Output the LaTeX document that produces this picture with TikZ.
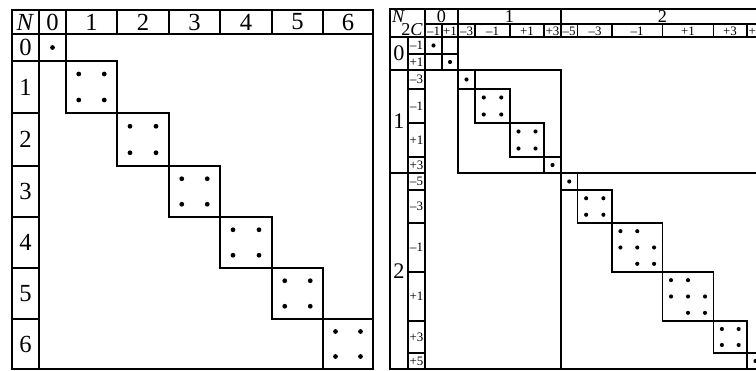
\documentclass[tikz,border=0pt]{standalone}
\usepackage{fontspec}
\setmainfont{Liberation Serif}
\usetikzlibrary{calc}

\begin{document}
\begin{tikzpicture}[x=0.3mm,y=-0.3mm,line join=miter,
  frm/.style={line width=1.6pt},
  ln/.style={line width=1.2pt},
  big/.style={font=\fontsize{21}{21}\selectfont,inner sep=0pt},
  hd/.style={font=\fontsize{15.5}{15.5}\selectfont,inner sep=0pt},
  rw/.style={font=\fontsize{19}{19}\selectfont,inner sep=0pt},
  sm/.style={font=\fontsize{11}{11}\selectfont,inner sep=0pt}]
  \useasboundingbox (0,0) rectangle (756,371);
  \clip (0,0) rectangle (756,371);

  % left: blocks N = 0..6
  \coordinate (lt) at (12,10);
  \coordinate (L0) at (39,34);   \coordinate (L1) at (66,61);
  \coordinate (L2) at (117,113); \coordinate (L3) at (169,166);
  \coordinate (L4) at (220,217); \coordinate (L5) at (272,268);
  \coordinate (L6) at (323,319); \coordinate (L7) at (373,369);
  \draw[frm] (lt) rectangle (L7);
  \draw[frm] (lt |- L0) -- (L7 |- L0);
  \draw[frm] (L0 |- lt) -- (L0 |- L7);
  \foreach \k in {1,...,6} {
    \draw[ln] (L\k |- lt) -- (L\k |- L0);
    \draw[ln] (lt |- L\k) -- (L0 |- L\k);
  }
  \foreach \a/\b in {0/1,1/2,2/3,3/4,4/5,5/6,6/7}
    \draw[ln] (L\a) rectangle (L\b);
  \node[big] (lN) at (25.5,22) {\textit{N}};
  \foreach \n/\x in {0/52.5,1/91.5,2/143,3/194.5,4/246,5/297.5,6/348}
    \node[big] (lc\n) at (\x,22) {\n};
  \foreach \n/\y in {0/47.5,1/87,2/139.5,3/191.5,4/242.5,5/293.5,6/344}
    \node[big] (lr\n) at (25.5,\y) {\n};
  \fill let \p1=(L0),\p2=(L1) in ({(\x1+\x2)/2},{(\y1+\y2)/2}) circle[radius=0.72mm];
  \foreach \a/\b in {1/2,2/3,3/4,4/5,5/6,6/7}
    \foreach \i/\j in {1/1,3/1,1/3,3/3}
      \fill let \p1=(L\a),\p2=(L\b) in ({\x1+\i*(\x2-\x1)/4},{\y1+\j*(\y2-\y1)/4}) circle[radius=0.72mm];

  % right: blocks N = 0,1,2 split by 2C
  \coordinate (rt) at (390,9);
  \coordinate (hm) at (425,24);
  \coordinate (rm) at (408,37);
  \coordinate (R0) at (425,37);    \coordinate (R1) at (442,54);
  \coordinate (R2) at (458,70);    \coordinate (R3) at (475,89);
  \coordinate (R4) at (510,123);   \coordinate (R5) at (544,157);
  \coordinate (R6) at (561,173);   \coordinate (R7) at (577.5,190);
  \coordinate (R8) at (612,223);   \coordinate (R9) at (662.5,272);
  \coordinate (R10) at (713.5,321); \coordinate (R11) at (747,353);
  \coordinate (R12) at (764,369);
  \draw[frm] (R12 |- rt) -- (rt) -- (rt |- R12) -- (R12);
  \draw[frm] (rt |- R0) -- (R12 |- R0);
  \draw[frm] (R0 |- rt) -- (R0 |- R12);
  \draw[ln] (rm) -- (rm |- R12);
  \draw[ln] (hm) -- (R12 |- hm);
  \foreach \k in {2,6} {
    \draw[ln] (R\k |- rt) -- (R\k |- R0);
    \draw[ln] (rt |- R\k) -- (R0 |- R\k);
  }
  \foreach \k in {1,...,11} \draw[ln] (R\k |- hm) -- (R\k |- R0);
  \foreach \k in {1,3,4,5,7,8,9,10,11} \draw[ln] (rm |- R\k) -- (R0 |- R\k);
  \foreach \a/\b in {0/2,2/6,6/12,0/1,1/2,2/3,3/4,4/5,5/6,6/7,7/8,8/9,9/10,10/11,11/12}
    \draw[ln] (R\a) rectangle (R\b);
  \node[hd,anchor=base west] (rN) at (392,23) {\textit{N}};
  \node[hd,anchor=base east] (rC) at (423,36) {2\textit{C}};
  \foreach \n/\x in {0/441.5,1/509.5,2/662.5}
    \node[hd,anchor=base] (rc\n) at (\x,23) {\n};
  \foreach \n/\y in {0/53.5,1/121.5,2/271}
    \node[rw] (rr\n) at (399,\y) {\n};
  \foreach \t/\x [count=\k] in {–1/433.5,+1/450,–3/466.5,–1/492.5,+1/527,+3/552.5,
      –5/569,–3/595,–1/637,+1/688,+3/730,+5/755.5}
    \node[sm,anchor=base] (cs\k) at (\x,35.5) {\t};
  \foreach \t/\y [count=\k] in {–1/45.5,+1/62,–3/79.5,–1/106,+1/140,+3/165,
      –5/181.5,–3/206.5,–1/247.5,+1/296.5,+3/337,+5/361}
    \node[sm] (rs\k) at (416.5,\y) {\t};
  \foreach \a/\b in {0/1,1/2,2/3,5/6,6/7,11/12}
    \fill let \p1=(R\a),\p2=(R\b) in ({(\x1+\x2)/2},{(\y1+\y2)/2}) circle[radius=0.62mm];
  \foreach \a/\b in {3/4,4/5,7/8,10/11}
    \foreach \i/\j in {1/1,3/1,1/3,3/3}
      \fill let \p1=(R\a),\p2=(R\b) in ({\x1+\i*(\x2-\x1)/4},{\y1+\j*(\y2-\y1)/4}) circle[radius=0.62mm];
  \foreach \a/\b in {8/9,9/10}
    \foreach \i/\j in {1/1,3/1,1/3,3/3,5/3,3/5,5/5}
      \fill let \p1=(R\a),\p2=(R\b) in ({\x1+\i*(\x2-\x1)/6},{\y1+\j*(\y2-\y1)/6}) circle[radius=0.62mm];
\end{tikzpicture}
\end{document}
